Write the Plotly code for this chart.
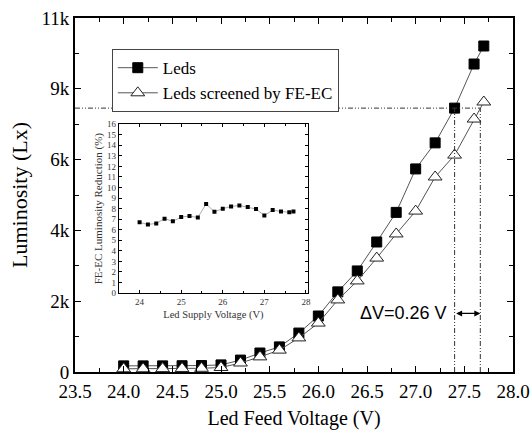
import numpy as np
import plotly.graph_objects as go

voltage = [24.0, 24.2, 24.4, 24.6, 24.8, 25.0, 25.2, 25.4, 25.6, 25.8,
           26.0, 26.2, 26.4, 26.6, 26.8, 27.0, 27.2, 27.4, 27.6, 27.7]
leds = [190, 190, 190, 195, 200, 220, 370, 590, 780, 1210,
        1740, 2490, 3140, 4040, 4960, 6310, 7120, 8200, 9570, 10130]
screened = [100, 100, 105, 110, 115, 140, 280, 470, 680, 1060,
            1520, 2240, 2830, 3540, 4290, 5000, 6060, 6740, 7860, 8390]
reduction = [6.7, 6.5, 6.6, 7.05, 6.8, 7.2, 7.3, 7.15, 8.45, 7.7,
             8.0, 8.2, 8.3, 8.15, 7.96, 7.35, 7.86, 7.73, 7.66, 7.73]

y_tickvals = [0, 2200, 4400, 6600, 8800, 11000]
y_ticktext = ["0", "2k", "4k", "6k", "9k", "11k"]

SERIF = "'Liberation Serif', 'Times New Roman', Times, serif"
SANS = "'Liberation Sans', Arial, sans-serif"
line_col = "#555555"

fig = go.Figure()
fig.add_trace(go.Scatter(
    x=voltage, y=leds, mode="lines+markers", name="Leds",
    line=dict(color=line_col, width=1),
    marker=dict(symbol="square", size=10, color="black", line=dict(color="black", width=1)),
))
fig.add_trace(go.Scatter(
    x=voltage, y=screened, mode="lines+markers", name="Leds screened by FE-EC",
    line=dict(color=line_col, width=1),
    marker=dict(symbol="triangle-up", size=12, color="white", line=dict(color="#222", width=1)),
))
fig.add_trace(go.Scatter(
    x=voltage, y=reduction, mode="lines+markers", showlegend=False,
    xaxis="x2", yaxis="y2",
    line=dict(color="#aaaaaa", width=1),
    marker=dict(symbol="square", size=4, color="black"),
))

# Reference lines derived from the data
idx = voltage.index(27.4)
y_ref = leds[idx]
x_a = voltage[idx]
x_b = float(np.interp(y_ref, screened, voltage))
dash_style = dict(color="#333", width=1, dash="5px,2px,1px,2px,1px,2px")
fig.add_shape(type="line", xref="x", yref="y", x0=23.5, x1=x_b, y0=y_ref, y1=y_ref, line=dash_style)
fig.add_shape(type="line", xref="x", yref="y", x0=x_a, x1=x_a, y0=0, y1=y_ref, line=dash_style)
fig.add_shape(type="line", xref="x", yref="y", x0=x_b, x1=x_b, y0=0, y1=y_ref, line=dash_style)

y_arrow = 1820
fig.add_annotation(x=x_b, y=y_arrow, ax=x_a, ay=y_arrow, xref="x", yref="y", axref="x", ayref="y",
                   text="", showarrow=True, arrowhead=2, arrowside="end+start",
                   arrowsize=1, arrowwidth=1.2, arrowcolor="black")
fig.add_annotation(x=27.34, y=y_arrow, xref="x", yref="y", xanchor="right", yanchor="middle",
                   text="ΔV=0.26 V", showarrow=False,
                   font=dict(family=SANS, size=18, color="black"))

axis_common = dict(showline=True, linecolor="black", mirror="ticks", ticks="inside",
                   showgrid=False, zeroline=False, tickcolor="black", automargin=False)

fig.update_layout(
    width=532, height=433,
    margin=dict(l=75, r=19, t=18, b=61),
    plot_bgcolor="white", paper_bgcolor="white",
    font=dict(family=SERIF, color="black"),
    xaxis=dict(range=[23.5, 28.0], dtick=0.5, tick0=23.5, tickformat=".1f",
               linewidth=2, ticklen=6, tickwidth=1, ticklabelstandoff=1,
               minor=dict(dtick=0.25, tick0=23.5, ticks="inside", ticklen=4, tickcolor="black"),
               tickfont=dict(family=SERIF, size=19),
               title=dict(text="Led Feed Voltage (V)", font=dict(family=SERIF, size=20), standoff=10),
               **axis_common),
    yaxis=dict(range=[0, 11000], tickmode="array", tickvals=y_tickvals, ticktext=y_ticktext,
               linewidth=2, ticklen=6, tickwidth=1,
               minor=dict(dtick=1100, tick0=0, ticks="inside", ticklen=4, tickcolor="black"),
               tickfont=dict(family=SERIF, size=19),
               title=dict(text="Luminosity (Lx)", font=dict(family=SERIF, size=22), standoff=8),
               **axis_common),
    xaxis2=dict(domain=[0.1, 0.532], anchor="y2", range=[23.5, 28.05], dtick=1, tick0=24,
                linewidth=1, ticklen=3, tickwidth=1,
                minor=dict(dtick=0.5, ticks="inside", ticklen=2, tickcolor="black"),
                tickfont=dict(family=SERIF, size=9, color="#333"),
                title=dict(text="Led Supply Voltage (V)", font=dict(family=SERIF, size=10.5, color="#333"), standoff=4),
                **axis_common),
    yaxis2=dict(domain=[0.223, 0.70], anchor="x2", range=[0, 16], dtick=1,
                linewidth=1, ticklen=3, tickwidth=1,
                tickfont=dict(family=SERIF, size=9, color="#333"),
                title=dict(text="FE-EC Luminosity Reduction (%)", font=dict(family=SERIF, size=11, color="#333"), standoff=2),
                **axis_common),
    legend=dict(x=0.084, y=0.912, xanchor="left", yanchor="top",
                bgcolor="white", bordercolor="#444", borderwidth=1,
                font=dict(family=SERIF, size=17), tracegroupgap=0, itemwidth=40),
    showlegend=True,
)

fig.write_html("out.html")
